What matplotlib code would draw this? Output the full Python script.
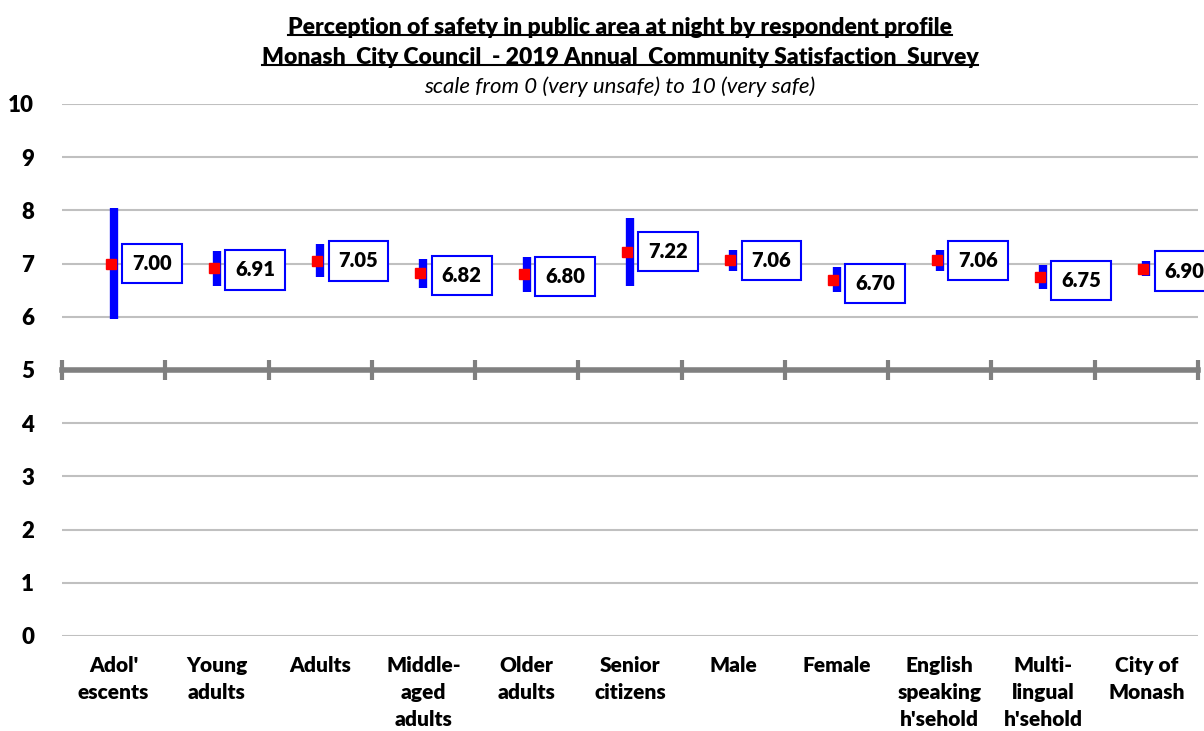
import numpy as np
import matplotlib
matplotlib.use('Agg')
import matplotlib.pyplot as plt
from matplotlib.lines import Line2D

plt.rcParams['font.family'] = ['Lato', 'DejaVu Sans']

# data
categories = ["Adol'\nescents", "Young\nadults", "Adults", "Middle-\naged\nadults",
              "Older\nadults", "Senior\ncitizens", "Male", "Female",
              "English\nspeaking\nh'sehold", "Multi-\nlingual\nh'sehold", "City of\nMonash"]
means = [7.00, 6.91, 7.05, 6.82, 6.80, 7.22, 7.06, 6.70, 7.06, 6.75, 6.90]
ci = [1.04, 0.33, 0.31, 0.27, 0.33, 0.64, 0.20, 0.24, 0.20, 0.22, 0.14]
label_y = [7.00, 6.88, 7.05, 6.78, 6.76, 7.22, 7.06, 6.62, 7.06, 6.68, 6.86]

x = np.arange(len(categories))
W = 'heavy'

fig = plt.figure(figsize=(12.04, 7.31), dpi=100)
ax = fig.add_axes([62/1204, 95/731, 1136/1204, 532/731])

# grid
for v in range(0, 11):
    if v != 5:
        ax.axhline(v, color='#c0c0c0', lw=1.5, zorder=0)

# bars + means
ax.errorbar(x, means, yerr=ci, fmt='none', ecolor='#0000ff', elinewidth=6, capsize=0, zorder=3)
ax.plot(x - 0.03, means, 's', color='#ff0000', ms=7, zorder=4)

for xi, m, ly in zip(x, means, label_y):
    ax.text(xi + 0.37, ly, '%.2f' % m, ha='center', va='center', fontsize=14.5, fontweight=W,
            bbox=dict(boxstyle='square,pad=0.5', fc='white', ec='#0000ff', lw=1.5),
            zorder=5, clip_on=False)

ax.set_xlim(-0.5, len(categories) - 0.5)
ax.set_ylim(0, 10)

# axis line at 5 with category separators
for s in ['top', 'right', 'left']:
    ax.spines[s].set_visible(False)
ax.spines['bottom'].set_position(('data', 5))
ax.spines['bottom'].set_color('#808080')
ax.spines['bottom'].set_linewidth(4)
ax.spines['bottom'].set_zorder(2)
ax.set_xticks(np.arange(-0.5, len(categories), 1.0))
ax.set_xticklabels([])
ax.tick_params(axis='x', direction='inout', length=15, width=3, color='#808080')

ax.set_yticks(range(0, 11))
ax.tick_params(axis='y', length=0, pad=20, labelsize=16)
for t in ax.get_yticklabels():
    t.set_fontweight(W)

for xi, c in zip(x, categories):
    ax.text(xi, -0.38, c, ha='center', va='top', fontsize=15, fontweight=W,
            linespacing=1.5)

# titles
t1 = fig.text(0.515, 1 - 27/731, 'Perception of safety in public area at night by respondent profile',
              ha='center', va='center', fontsize=16.5, fontweight=W)
t2 = fig.text(0.515, 1 - 57/731, 'Monash  City Council  - 2019 Annual  Community Satisfaction  Survey',
              ha='center', va='center', fontsize=16.5, fontweight=W)
fig.text(0.515, 1 - 87/731, 'scale from 0 (very unsafe) to 10 (very safe)',
         ha='center', va='center', fontsize=16, style='italic')

r = fig.canvas.get_renderer()
for t in (t1, t2):
    bb = t.get_window_extent(r).transformed(fig.transFigure.inverted())
    fig.add_artist(Line2D([bb.x0, bb.x1], [bb.y0 + 0.003, bb.y0 + 0.003], color='black', lw=1.5,
                          transform=fig.transFigure))

fig.savefig('out.png', dpi=100)
